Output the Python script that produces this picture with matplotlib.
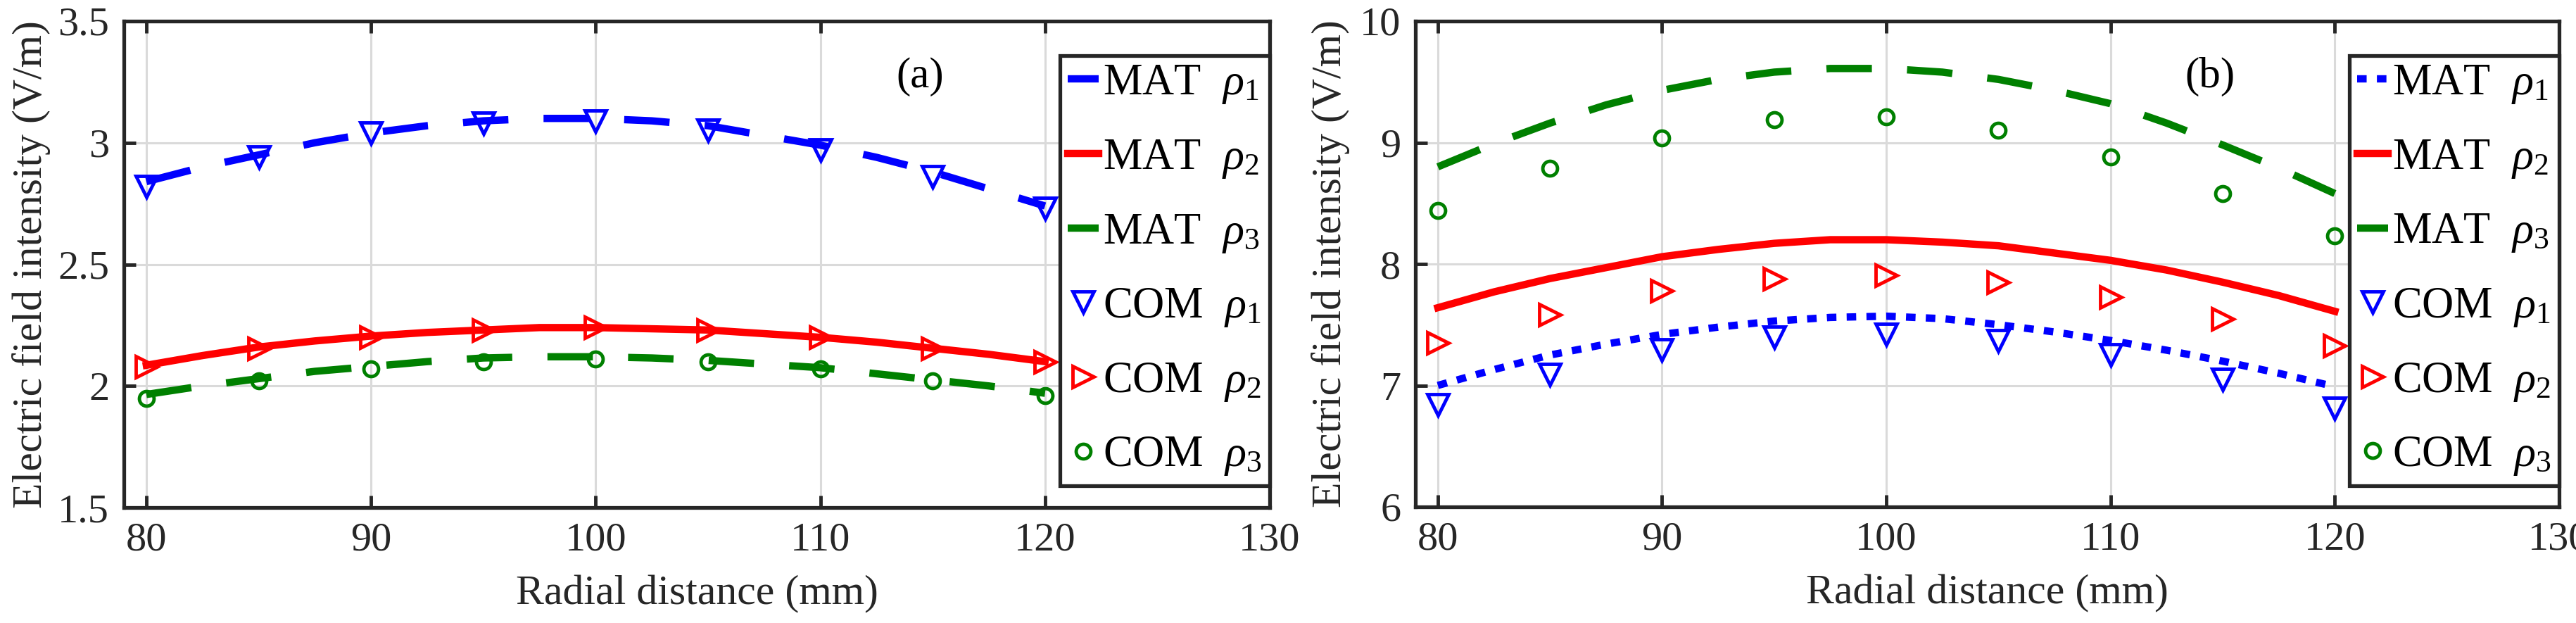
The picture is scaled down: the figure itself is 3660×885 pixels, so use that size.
import matplotlib
matplotlib.use("Agg")
import matplotlib.pyplot as plt

plt.rcParams['font.family'] = ['Liberation Serif', 'DejaVu Serif']
plt.rcParams['mathtext.fontset'] = 'custom'
plt.rcParams['mathtext.rm'] = 'Liberation Serif'
plt.rcParams['mathtext.it'] = 'Liberation Serif:italic'

# radial distance (mm)
x_com = [80, 85, 90, 95, 100, 105, 110, 115, 120]
x_mat = [80, 82.5, 85, 87.5, 90, 92.5, 95, 97.5, 100, 102.5, 105, 107.5, 110, 112.5, 115, 117.5, 120]

# panel (a)
a_mat1 = [2.84, 2.90, 2.95, 3.00, 3.04, 3.07, 3.09, 3.10, 3.10, 3.09, 3.07, 3.03, 2.99, 2.94, 2.88, 2.81, 2.74]
a_mat2 = [2.085, 2.125, 2.16, 2.185, 2.205, 2.22, 2.23, 2.24, 2.24, 2.235, 2.23, 2.215, 2.20, 2.18, 2.155, 2.13, 2.10]
a_mat3 = [1.965, 2.00, 2.03, 2.06, 2.08, 2.10, 2.115, 2.12, 2.12, 2.115, 2.105, 2.09, 2.075, 2.05, 2.025, 2.00, 1.97]
a_com1 = [2.82, 2.94, 3.04, 3.08, 3.09, 3.05, 2.97, 2.86, 2.73]
a_com2 = [2.08, 2.155, 2.20, 2.23, 2.24, 2.23, 2.20, 2.155, 2.10]
a_com3 = [1.95, 2.02, 2.07, 2.10, 2.11, 2.10, 2.07, 2.02, 1.96]

# panel (b)
b_mat1 = [7.00, 7.13, 7.25, 7.34, 7.42, 7.48, 7.53, 7.56, 7.57, 7.55, 7.50, 7.44, 7.37, 7.29, 7.20, 7.10, 6.99]
b_mat2 = [7.64, 7.77, 7.88, 7.97, 8.06, 8.12, 8.17, 8.20, 8.20, 8.18, 8.15, 8.09, 8.03, 7.95, 7.85, 7.74, 7.61]
b_mat3 = [8.80, 8.99, 9.16, 9.31, 9.43, 9.52, 9.58, 9.61, 9.61, 9.58, 9.52, 9.43, 9.32, 9.16, 8.98, 8.79, 8.58]
b_com1 = [6.84, 7.09, 7.29, 7.40, 7.42, 7.37, 7.25, 7.05, 6.81]
b_com2 = [7.35, 7.58, 7.78, 7.88, 7.91, 7.85, 7.73, 7.55, 7.33]
b_com3 = [8.44, 8.79, 9.04, 9.19, 9.21, 9.10, 8.88, 8.58, 8.23]

labels = [r'MAT  $\rho_{\mathit{1}}$', r'MAT  $\rho_{\mathit{2}}$', r'MAT  $\rho_{\mathit{3}}$',
          r'COM  $\rho_{\mathit{1}}$', r'COM  $\rho_{\mathit{2}}$', r'COM  $\rho_{\mathit{3}}$']
colors = ['#0000ff', '#ff0000', '#008000']
markers = ['v', '>', 'o']
msizes = [21, 21, 15]

dark = '#262626'
lw = 7.5
dash = (6.2, 4.8)
dots = (1.3, 1.4)

fig = plt.figure(figsize=(36.6, 8.85), dpi=100)
ax1 = fig.add_axes([176/3660, 164/885, 1628/3660, 691/885])
ax2 = fig.add_axes([2011/3660, 165/885, 1625/3660, 690/885])


def draw(ax, mats, coms, styles, ylim, yticks, tag, ylab_x):
    for i in range(3):
        ls = styles[i]
        if ls == 'solid':
            ax.plot(x_mat, mats[i], color=colors[i], lw=lw, label=labels[i])
        else:
            ax.plot(x_mat, mats[i], color=colors[i], lw=lw, dashes=ls, label=labels[i])
    for i in range(3):
        ax.plot(x_com, coms[i], ls='none', marker=markers[i], ms=msizes[i], mew=3.5,
                mfc='none', mec=colors[i], label=labels[i + 3])
    ax.set_xlim(79, 130)
    ax.set_ylim(*ylim)
    ax.set_xticks([80, 90, 100, 110, 120, 130])
    ax.set_yticks(yticks)
    ax.set_yticklabels([('%g' % v) for v in yticks])
    ax.grid(True, color='#dadada', lw=2.2)
    ax.set_axisbelow(True)
    ax.tick_params(direction='in', length=12, width=3.5, labelsize=42, colors=dark,
                   top=True, right=True, pad=15)
    for s in ax.spines.values():
        s.set_linewidth(3.8)
        s.set_color(dark)
    ax.set_xlabel('Radial distance (mm)', fontsize=43, color=dark, va='center')
    ax.xaxis.set_label_coords(0.5, -0.178)
    ax.set_ylabel('Electric field intensity (V/m)', fontsize=43, color=dark, va='center')
    ax.yaxis.set_label_coords(ylab_x, 0.5)
    ax.text(0.695, 0.885, tag, transform=ax.transAxes, fontsize=44, ha='center', va='center')
    leg = ax.legend(loc='upper right', bbox_to_anchor=(1.0, 0.929), borderaxespad=0,
                    fontsize=45, handlelength=0.7, handletextpad=0.1, labelspacing=0.73,
                    borderpad=0.18, frameon=True, fancybox=False, framealpha=1,
                    edgecolor=dark)
    leg.get_frame().set_linewidth(3.8)


draw(ax1, [a_mat1, a_mat2, a_mat3], [a_com1, a_com2, a_com3],
     [dash, 'solid', dash], (1.5, 3.5), [1.5, 2, 2.5, 3, 3.5], '(a)', -0.081)
draw(ax2, [b_mat1, b_mat2, b_mat3], [b_com1, b_com2, b_com3],
     [dots, 'solid', dash], (6, 10), [6, 7, 8, 9, 10], '(b)', -0.074)

fig.savefig('out.png', dpi=100)
